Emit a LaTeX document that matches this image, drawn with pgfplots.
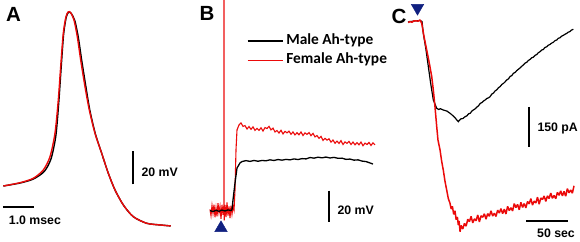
\documentclass[border=0pt]{standalone}
\usepackage{pgfplots}
\pgfplotsset{compat=1.18}
\usepackage{fontspec}
\setmainfont{Liberation Sans}
\newfontfamily\legfont{Carlito}[BoldFont={Carlito Bold}]
\definecolor{trRed}{RGB}{235,10,10}
\definecolor{triBlue}{RGB}{16,32,128}
\pgfplotsset{
  panel/.style={at={(0,0)}, anchor=south west, width=580bp, height=242bp,
    scale only axis, axis lines=none, clip=false},
}
\tikzset{
  sbar/.style={black, line width=1.6bp},
  sblab/.style={font=\fontsize{12.3bp}{14bp}\selectfont\bfseries},
  plab/.style={font=\fontsize{20.5bp}{22bp}\selectfont\bfseries},
}
\begin{document}
\begin{tikzpicture}
\useasboundingbox (0,0) rectangle (580bp,242bp);
%% ---------------- Panel A : action potential (msec, mV)
\begin{axis}[panel, xmin=-0.09677, xmax=18.6129, ymin=-98.9394, ymax=47.7273]
\addplot[black, line width=1.4bp, smooth, tension=0.45] coordinates {
(0.01,-65.0)(0.548,-63.2)(0.977,-60.8)(1.33,-56.2)(1.55,-48.5)(1.705,-34.5)
(1.80,-14)(1.875,6.5)(1.955,27)(2.04,37.3)(2.115,40.3)(2.2,39.6)(2.32,35)
(2.43,25)(2.54,11)(2.675,-5)(2.80,-19)(2.975,-33.1)(3.184,-45.2)(3.397,-57.3)
(3.613,-67.4)(3.881,-76.5)(4.203,-83.6)(4.635,-87.6)(5.065,-88.6)(5.41,-89.2)};
\addplot[trRed, line width=1.4bp, smooth, tension=0.45] coordinates {
(0.01,-65.0)(0.548,-63.0)(0.977,-60.33)(1.30,-55.3)(1.516,-47.24)(1.677,-33.06)
(1.784,-12.88)(1.861,7.3)(1.945,27.55)(2.032,37.6)(2.106,40.6)(2.184,40.0)
(2.29,35.6)(2.397,25.5)(2.506,11.4)(2.645,-4.8)(2.784,-18.9)(2.968,-33.1)
(3.184,-45.2)(3.397,-57.3)(3.613,-67.4)(3.881,-76.5)(4.203,-83.6)(4.635,-87.6)
(5.065,-88.6)(5.41,-89.2)};
% scale bars
\addplot[sbar] coordinates {(4.19,-64)(4.19,-44)};
\addplot[sbar] coordinates {(0,-77.7)(1,-77.7)};
\node[sblab, anchor=west] at (axis cs:4.355,-56.9) {20 mV};
\node[sblab] at (axis cs:1.03,-85.6) {1.0 msec};
\node[plab] at (axis cs:0.339,39.2) {A};
\end{axis}
%% ---------------- Panel B : membrane potential (ms, mV)
\begin{axis}[panel, xmin=-210, xmax=370, ymin=-20, ymax=136.129,
  reverse legend,
  legend style={draw=none, fill=none, at={(axis cs:37,114.2)}, anchor=north west,
    inner sep=0pt, outer sep=0pt, row sep=5.3bp, column sep=3bp,
    font=\legfont\bfseries\fontsize{15.4bp}{17bp}\selectfont,
    nodes={inner sep=0pt, text height=10.6bp, text depth=3.4bp}},
  legend cell align=left,
  legend image code/.code={\draw[#1, line width=1.3bp] (0bp,0bp) -- (35bp,0bp);}]
\addplot[trRed, line width=1.1bp] coordinates {
(0,1)(1,-3)(2,3.5)(3,-1.5)(4,4)(5,-4)(6,2)(7,-3.5)(8,5)(9,-1)(10,3)(11,-5)(12,4)
(13,-2.5)(13.8,3)(14,140)(14.2,-6)(15,4)(16,-4)(17,5.5)(18,-3)(19,3)(20,-4.5)
(21,3.5)(22,-2)(23,3)(24,0.5)(25,13.5)(26,39.4)(27,52.3)(29,55.5)(31,56.8)
(33,54.6)(35,55.1)(37,52.9)(39,54.5)(41,52.7)(43,54.3)(45,52.0)(47,53.3)(49,52.0)
(51,53.7)(53,51.6)(55,53.8)(57,53.2)(59,54.6)(61,52.3)(63,53.5)(65,51.0)(67,51.9)
(69,50.3)(71,52.1)(73,49.7)(75,51.4)(77,50.4)(79,51.5)(81,49.5)(83,51.0)(85,49.1)
(87,50.5)(89,49.2)(91,51.0)(93,48.7)(95,50.4)(97,49.4)(99,50.6)(101,48.6)(103,50.1)
(105,47.8)(107,48.7)(109,46.9)(111,48.2)(113,45.5)(115,46.9)(117,45.7)(119,46.6)
(121,44.4)(123,45.8)(125,43.7)(127,45.1)(129,43.6)(131,45.4)(133,42.9)(135,44.6)
(137,43.6)(139,44.9)(141,42.9)(143,44.5)(145,42.7)(147,44.1)(149,42.7)(151,44.5)
(153,42.1)(155,43.8)(157,42.9)(159,44.2)(161,42.3)(163,44.0)(165,42.7)};
\addlegendentry{Female Ah-type}
\addplot[black, line width=1.3bp] coordinates {
(0,0.3)(3,-0.4)(6,0.5)(9,-0.2)(12,0.6)(15,0)(18,0.7)(21,0.3)(22,0.8)
(23,7.1)(25,18.1)(27,27.7)(30,31.0)(32,31.9)(36,32.5)(40,32.0)(44,32.6)(48,32.1)
(52,32.6)(56,32.4)(60,33.0)(64,32.6)(68,33.2)(72,32.8)(76,33.3)(80,33.0)(84,33.6)
(88,33.2)(92,33.8)(96,33.6)(100,34.5)(104,34.1)(108,34.7)(112,34.3)(116,34.8)
(120,34.2)(124,34.6)(128,34.0)(132,34.1)(136,33.3)(140,33.5)(144,32.8)(148,33.0)
(152,32.2)(156,31.9)(160,31.0)(163,30.3)};
\addlegendentry{Male Ah-type}
\addplot[only marks, mark=triangle*, mark size=7.2bp, color=triBlue,
  forget plot] coordinates {(11,-10.97)};
\addplot[sbar, forget plot] coordinates {(118.7,13.1)(118.7,-6.9)};
\node[sblab, anchor=west] at (axis cs:124,0.65) {20 mV};
\node[plab] at (axis cs:-3,127.4) {B};
\end{axis}
%% ---------------- Panel C : current (sec, pA)
\begin{axis}[panel, xmin=-491.566, xmax=207.229, ymin=-828.75, ymax=78.75]
\addplot[black, line width=1.2bp] coordinates {
(0,-3.75)(7.2,0)(14.5,1.9)(16.9,-1.9)(18.4,-46.1)(21.7,-108.75)(24.5,-171.4)
(27.3,-233.6)(30.5,-296.25)(34.6,-327.4)(37,-332)(39,-329)(42.5,-333.75)(45,-336)
(47,-338)(50.6,-346.1)(53,-352)(55,-358)(57,-364)(59,-372)(60.6,-377.6)(62,-372)
(64,-366.5)(66,-366)(68.7,-358.9)(71,-355.5)(73,-348)(75,-346)(77,-337.5)
(78.7,-333.75)(81,-329)(83,-322.5)(85,-318)(87,-309)(89,-306)(91,-300)(93,-296)
(95,-290.5)(97,-288)(98.8,-283.9)(101,-274)(103,-270)(105,-262)(107,-258)(109,-250)
(111,-246)(113,-238)(115,-234)(117,-228)(118.9,-221.25)(121,-217)(123,-208)
(125,-205)(127,-196)(129,-193)(131,-186)(133,-181)(135,-176)(137,-170)(138.9,-165)
(141,-158)(143,-155)(145,-148)(147,-144)(149,-138)(151,-136)(153,-129)(155,-126)
(157,-119)(159,-115.1)(161,-109)(163,-107)(165,-99)(167,-97)(169,-91)(171,-88)
(173,-83)(175,-80)(177,-74)(179.2,-71.25)(181,-65)(183,-63)(185,-57)(187,-54)
(189,-50)(191,-47)(193,-42)(195,-40)(197,-34)(199.2,-31.1)};
\addplot[trRed, line width=1.5bp, line join=bevel] coordinates {
(0.36,-6.4)(2,-2)(4.8,-4.5)(7,0)(9.6,1)(12,-1)(14.5,3.75)(16.5,-8.6)(19.3,-58.9)
(22.5,-108.75)(25.7,-158.6)(28.6,-208.9)(30.5,-258.75)(32.5,-321.4)(34.6,-396.4)
(36.1,-446.25)(38.6,-483.75)(40.5,-525)(42.5,-558.75)(44.5,-600)(46.6,-633.75)
(48.5,-665)(50.6,-683.6)(52,-705)(53.5,-695)(55,-725)(56.6,-712)(58,-745)(59.5,-735)
(60.6,-765)(61.5,-750)(62.7,-790)(64,-766.7)(66,-779.9)(68,-759.1)(70,-769.3)
(72,-743.4)(74,-752.5)(76,-732.7)(78,-756.8)(80,-742.0)(82,-749.1)(84,-727.3)
(86,-753.4)(88,-730.6)(90,-735.7)(92,-722.9)(94,-743.0)(96,-722.2)(98,-732.3)
(100,-711.5)(102,-731.6)(104,-720.8)(106,-732.9)(108,-709.1)(110,-720.2)(112,-703.4)
(114,-722.5)(116,-705.7)(118,-723.8)(120,-695.0)(122,-711.1)(124,-700.3)(126,-712.4)
(128,-684.6)(130,-699.7)(132,-687.9)(134,-708.0)(136,-680.2)(138,-699.3)(140,-684.5)
(142,-700.6)(144,-676.8)(146,-685.9)(148,-666.1)(150,-690.2)(152,-675.4)(154,-682.5)
(156,-660.7)(158,-686.8)(160,-664.0)(162,-669.1)(164,-656.3)(166,-676.4)(168,-655.6)
(170,-665.7)(172,-644.9)(174,-665.0)(176,-654.2)(178,-666.3)(180,-642.5)(182,-653.6)
(184,-636.8)(186,-655.9)(188,-639.1)(190,-657.2)(192,-628.4)(194,-644.5)(196,-633.7)
(198,-645.8)(200,-618.0)};
\addplot[only marks, mark=triangle*, mark size=7.2bp, color=triBlue,
  mark options={rotate=180}] coordinates {(11.45,48.75)};
\addplot[sbar] coordinates {(145.8,-322.5)(145.8,-472.5)};
\addplot[sbar] coordinates {(142.2,-750)(192.2,-750)};
\node[sblab, anchor=west] at (axis cs:151.8,-401.25) {150 pA};
\node[sblab] at (axis cs:178.3,-796) {50 sec};
\node[plab] at (axis cs:-10.84,18.75) {C};
\end{axis}
\end{tikzpicture}
\end{document}
